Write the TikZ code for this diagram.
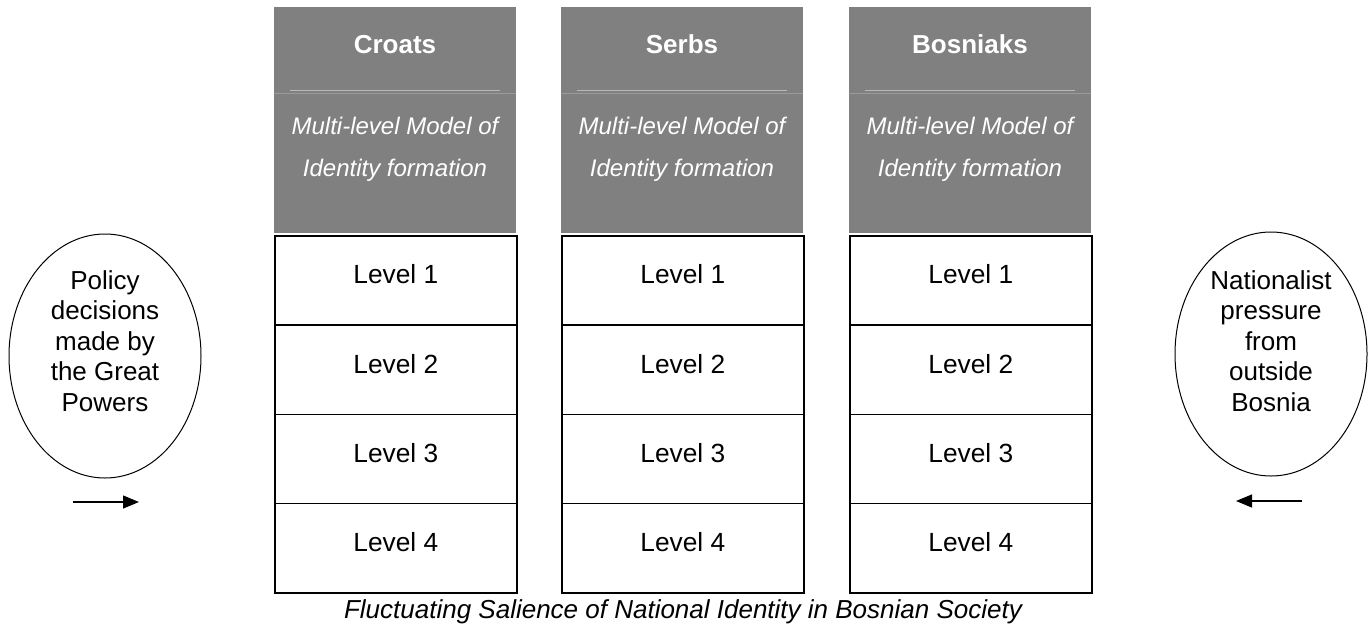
\documentclass[tikz,border=0pt]{standalone}
\usepackage{fontspec}
\setmainfont{Liberation Sans}
\usetikzlibrary{shapes.geometric,arrows.meta}
\definecolor{hdrgray}{HTML}{808080}
\definecolor{sepgray}{HTML}{9A9A9A}
\begin{document}
\begin{tikzpicture}[x=1pt,y=-1pt,
  hdr/.style={fill=hdrgray,draw=none,minimum width=242pt,minimum height=226pt,anchor=north west,inner sep=0pt},
  lvl/.style={draw=black,line width=1.6pt,minimum width=242pt,minimum height=89.25pt,anchor=north west,inner sep=0pt,text depth=12pt,font=\fontsize{26.3}{30}\selectfont},
  title/.style={text=white,anchor=base,font=\fontsize{26}{30}\selectfont\bfseries},
  sub/.style={text=white,font=\fontsize{24}{42}\selectfont\itshape,align=center},
  oval/.style={draw=black,line width=1pt,ellipse,minimum width=192pt,minimum height=244pt,inner sep=0pt},
  ovtext/.style={font=\fontsize{26}{30.5}\selectfont,align=center},
  push/.style={line width=1.2pt,-{Triangle[length=16pt,width=13pt]}}
]
\useasboundingbox (0,0) rectangle (1370,641);
\foreach \n/\x/\t in {c/274/Croats,s/561/Serbs,b/849/Bosniaks}{
  \node[hdr] (\n h) at (\x,7) {};
  \draw[sepgray,line width=0.8pt] (\x,93.5) -- (\x+242,93.5);
  \draw[sepgray!70,line width=0.6pt] (\x+16,90.5) -- (\x+226,90.5);
  \node[title] (\n t) at (\x+121,53.5) {\t};
  \node[sub] (\n m) at (\x+121,149.5) {Multi-level Model of\\Identity formation};
  \node[lvl] (\n 1) at (\x,235) {Level 1};
  \node[lvl] (\n 2) at (\x,324.25) {Level 2};
  \node[lvl] (\n 3) at (\x,413.5) {Level 3};
  \node[lvl] (\n 4) at (\x,502.75) {Level 4};
}
\node[oval] (left) at (105,356) {};
\node[ovtext] (lt) at (105,341) {Policy\\decisions\\made by\\the Great\\Powers};
\node[oval] (right) at (1271,354) {};
\node[ovtext] (rt) at (1271,341) {Nationalist\\pressure\\from\\outside\\Bosnia};
\coordinate (la) at (73,502);
\coordinate (lb) at (139,502);
\draw[push] (la) -- (lb);
\coordinate (ra) at (1302,501);
\coordinate (rb) at (1236,501);
\draw[push] (ra) -- (rb);
\node[font=\fontsize{26}{30}\selectfont\itshape] (cap) at (683,612) {Fluctuating Salience of National Identity in Bosnian Society};
\end{tikzpicture}
\end{document}
